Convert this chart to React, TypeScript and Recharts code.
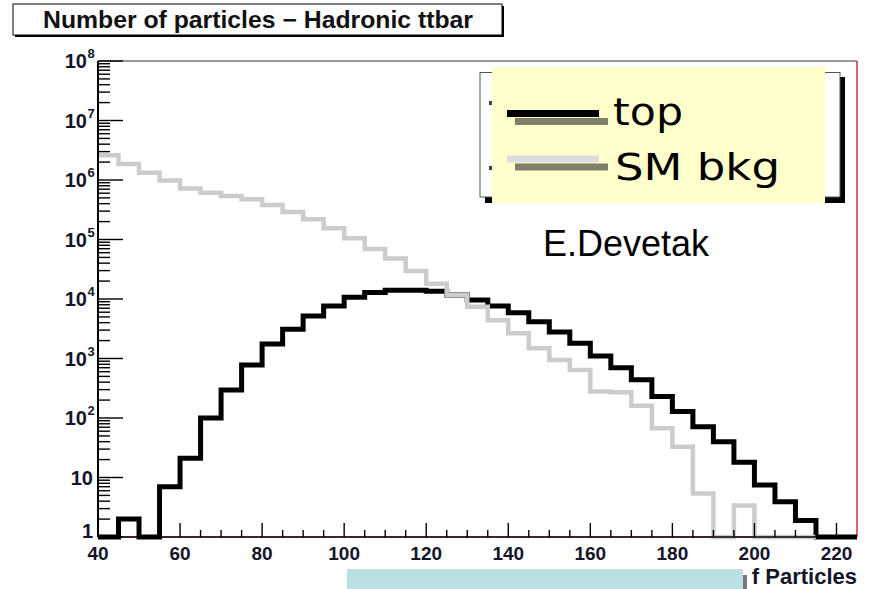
import { ComposedChart, Line, XAxis, YAxis, ReferenceLine } from "recharts";

// bin low edges, width 5
const binEdges = [40, 45, 50, 55, 60, 65, 70, 75, 80, 85, 90, 95, 100, 105, 110, 115, 120, 125, 130, 135, 140, 145, 150, 155, 160, 165, 170, 175, 180, 185, 190, 195, 200, 205, 210, 215, 220];

const topCounts = [1, 2, 1, 7, 21, 100, 295, 780, 1750, 3100, 5200, 7600, 10700, 12800, 14000, 14000, 13500, 11700, 9600, 7600, 5900, 4150, 2800, 1800, 1100, 700, 440, 230, 128, 71, 40, 18, 7.5, 3.9, 1.9, 1, 1];

const bkgCounts = [2600000, 1860000, 1330000, 980000, 720000, 610000, 540000, 475000, 380000, 290000, 220000, 155000, 105000, 69000, 48000, 29500, 18000, 11700, 7400, 4400, 2650, 1480, 940, 640, 280, 270, 160, 67, 33, 5.4, 1, 3.4, 1, 1, 1, 1, null];

const xTicks = [40, 45, 50, 55, 60, 65, 70, 75, 80, 85, 90, 95, 100, 105, 110, 115, 120, 125, 130, 135, 140, 145, 150, 155, 160, 165, 170, 175, 180, 185, 190, 195, 200, 205, 210, 215, 220];

const yTicks: number[] = [];
for (let k = 0; k < 8; k++) {
	for (let m = 1; m < 10; m++) yTicks.push(m * Math.pow(10, k));
}
yTicks.push(1e8);

const data = binEdges.map((x, i) => ({ x, top: topCounts[i], bkg: bkgCounts[i] }));
// close the last bin
data.push({ x: 225, top: topCounts[topCounts.length - 1], bkg: null });

const FONT = "'Liberation Sans', Arial, sans-serif";
const LABEL = "#15152a";

function YTick({ x, y, payload }: any) {
	const v = payload.value;
	const lg = Math.log10(v);
	const exp = Math.round(lg);
	const major = Math.abs(lg - exp) < 1e-9;
	return (
		<g>
			<line x1={x} y1={y} x2={x + (major ? 25 : 12)} y2={y} stroke="#000" strokeWidth={1.4} />
			{major && exp < 2 && (
				<text x={x - 5} y={y + (exp === 0 ? 1 : 7)} textAnchor="end" fontFamily={FONT} fontWeight="bold" fontSize={20} fill={LABEL}>
					{exp === 0 ? "1" : "10"}
				</text>
			)}
			{major && exp >= 2 && (
				<g>
					<text x={x - 11} y={y + 7} textAnchor="end" fontFamily={FONT} fontWeight="bold" fontSize={20} fill={LABEL}>
						10
					</text>
					<text x={x - 10.5} y={y - 3} textAnchor="start" fontFamily={FONT} fontWeight="bold" fontSize={13} fill={LABEL}>
						{exp}
					</text>
				</g>
			)}
		</g>
	);
}

function XTick({ x, y, payload }: any) {
	const v = payload.value;
	const major = (v - 40) % 20 === 0;
	return (
		<g>
			<line x1={x} y1={y} x2={x} y2={y - (major ? 14 : 7)} stroke="#000" strokeWidth={1.4} />
			{major && (
				<text x={x} y={y + 23} textAnchor="middle" fontFamily={FONT} fontWeight="bold" fontSize={19} fill={LABEL}>
					{v}
				</text>
			)}
		</g>
	);
}

function Overlay() {
	return (
		<svg width={869} height={589} style={{ position: "absolute", left: 0, top: 0, pointerEvents: "none" }}>
			{/* title box */}
			<rect x={15} y={6} width={489} height={31} fill="#000" />
			<rect x={13} y={4} width={489} height={31} fill="#fff" stroke="#000" strokeWidth={1} />
			<text x={43} y={27.5} fontFamily={FONT} fontWeight="bold" fontSize={24} fill="#111" textLength={430} lengthAdjust="spacingAndGlyphs">
				Number of particles − Hadronic ttbar
			</text>

			{/* legend */}
			<rect x={485} y={77} width={360} height={126} fill="#000" />
			<rect x={480} y={72.5} width={360} height={124.5} fill="#fff" stroke="#555" strokeWidth={1} />
			<rect x={489} y={101} width={3} height={4} fill="#444" />
			<rect x={489} y={166} width={3} height={4} fill="#444" />
			<rect x={492} y={67} width={333} height={136} fill="#ffffcc" />
			<rect x={507} y={110} width={92} height={7} fill="#000" />
			<rect x={515} y={118} width={93} height={7} fill="#7f7f68" />
			<rect x={507} y={155.5} width={92} height={7} fill="#dcdcdc" />
			<rect x={515} y={163.5} width={93} height={7} fill="#7f7f68" />
			<text x={613} y={125} fontFamily="'DejaVu Sans', sans-serif" fontSize={38} fill="#000" textLength={70} lengthAdjust="spacingAndGlyphs">
				top
			</text>
			<text x={615} y={180} fontFamily="'DejaVu Sans', sans-serif" fontSize={38} fill="#000" textLength={165} lengthAdjust="spacingAndGlyphs">
				SM bkg
			</text>

			<text x={543} y={255.5} fontFamily={FONT} fontSize={36} fill="#000">
				E.Devetak
			</text>

			{/* bottom strip */}
			<rect x={347} y={569} width={396} height={20} fill="#b9e1e4" />
			<rect x={743} y={575} width={4} height={14} fill="#777" />
			<text x={857} y={584} textAnchor="end" fontFamily={FONT} fontWeight="bold" fontSize={22} fill="#15152a">
				f Particles
			</text>
		</svg>
	);
}

export default function App() {
	return (
		<div style={{ position: "absolute", left: 0, top: 0, width: 869, height: 589, background: "#fff" }}>
			<ComposedChart width={869} height={589} data={data} margin={{ top: 61, right: 12, bottom: 22, left: 38 }}>
				<XAxis
					dataKey="x"
					type="number"
					domain={[40, 225]}
					ticks={xTicks}
					interval={0}
					tickSize={0}
					tickMargin={0}
					tickLine={false}
					tick={<XTick />}
					axisLine={{ stroke: "#000", strokeWidth: 1.5 }}
					height={30}
				/>
				<YAxis
					type="number"
					scale="log"
					domain={[1, 1e8]}
					ticks={yTicks}
					interval={0}
					tickSize={0}
					tickMargin={0}
					tickLine={false}
					tick={<YTick />}
					axisLine={{ stroke: "#000", strokeWidth: 2 }}
					width={60}
				/>
				<ReferenceLine y={1e8} stroke="#333" strokeWidth={1.2} />
				<ReferenceLine x={225} stroke="#d03030" strokeWidth={1.5} />
				<ReferenceLine y={1} stroke="#d03030" strokeWidth={1} />
				<Line
					dataKey="top"
					type="stepAfter"
					stroke="#000"
					strokeWidth={5}
					strokeLinejoin="miter"
					dot={false}
					activeDot={false}
					isAnimationActive={false}
				/>
				<Line
					dataKey="bkg"
					type="stepAfter"
					stroke="#cccccc"
					strokeWidth={4.5}
					strokeLinejoin="miter"
					dot={false}
					activeDot={false}
					isAnimationActive={false}
				/>
			</ComposedChart>
			<Overlay />
		</div>
	);
}
